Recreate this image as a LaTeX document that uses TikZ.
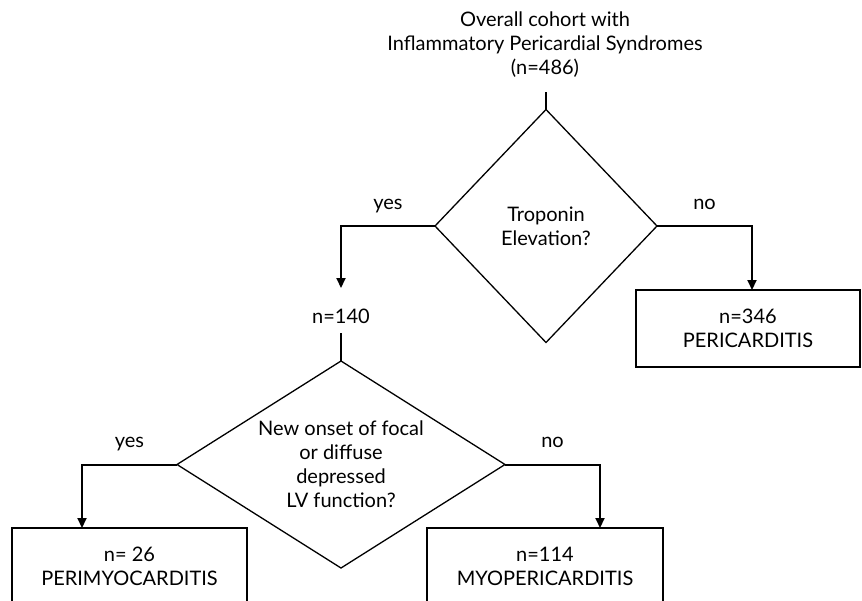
\documentclass[tikz,border=0pt]{standalone}
\usepackage{fontspec}
\setmainfont{Lato}
\usetikzlibrary{shapes.geometric,arrows.meta}
\begin{document}
\begin{tikzpicture}[x=1pt,y=-1pt,
  every node/.style={font=\fontsize{20}{24}\selectfont, inner sep=0pt, outer sep=0pt},
  decision/.style={draw, diamond, line width=1.3pt, align=center},
  result/.style={draw, rectangle, line width=1.4pt, align=center},
  conn/.style={line width=2pt},
  arr/.style={conn, -{Triangle[length=10pt,width=9pt]}},
  lbl/.style={anchor=base, yshift=17pt}]
\useasboundingbox (0,0) rectangle (862,600);
\clip (0,0) rectangle (862,600);

\node[align=center] (title) at (545,45) {Overall cohort with\\Inflammatory Pericardial Syndromes\\(n=486)};
\coordinate (t1) at (546,92);
\node[decision, aspect=0.95, minimum width=222pt, minimum height=233pt] (d1) at (546,226) {Troponin\\Elevation?};
\node[result, minimum width=224pt, minimum height=77pt] (b1) at (748,328.5) {n=346\\PERICARDITIS};
\node[text height=14pt, text depth=0pt] (n140) at (341,316) {n=140};
\node[decision, aspect=1.585, minimum width=328pt, minimum height=207pt] (d2) at (341,464.5) {New onset of focal\\or diffuse\\depressed\\LV function?};
\node[result, minimum width=235pt, minimum height=77pt] (b2) at (129.5,566.5) {n= 26\\PERIMYOCARDITIS};
\node[result, minimum width=236pt, minimum height=77pt] (b3) at (545,566.5) {n=114\\MYOPERICARDITIS};

\draw[conn] (t1) -- (d1.north);
\draw[arr] (d1.west) -| node[lbl, pos=0.25] {yes} ([yshift=21pt]n140.north);
\draw[arr] (d1.east) -| node[lbl, pos=0.25] {no} ([xshift=4pt]b1.north);
\draw[conn] ([yshift=-10pt]n140.south) -- (d2.north);
\draw[arr] (d2.west) -| node[lbl, pos=0.25] {yes} ([xshift=-47.5pt]b2.north);
\draw[arr] (d2.east) -| node[lbl, pos=0.25] {no} ([xshift=55pt]b3.north);
\end{tikzpicture}
\end{document}
